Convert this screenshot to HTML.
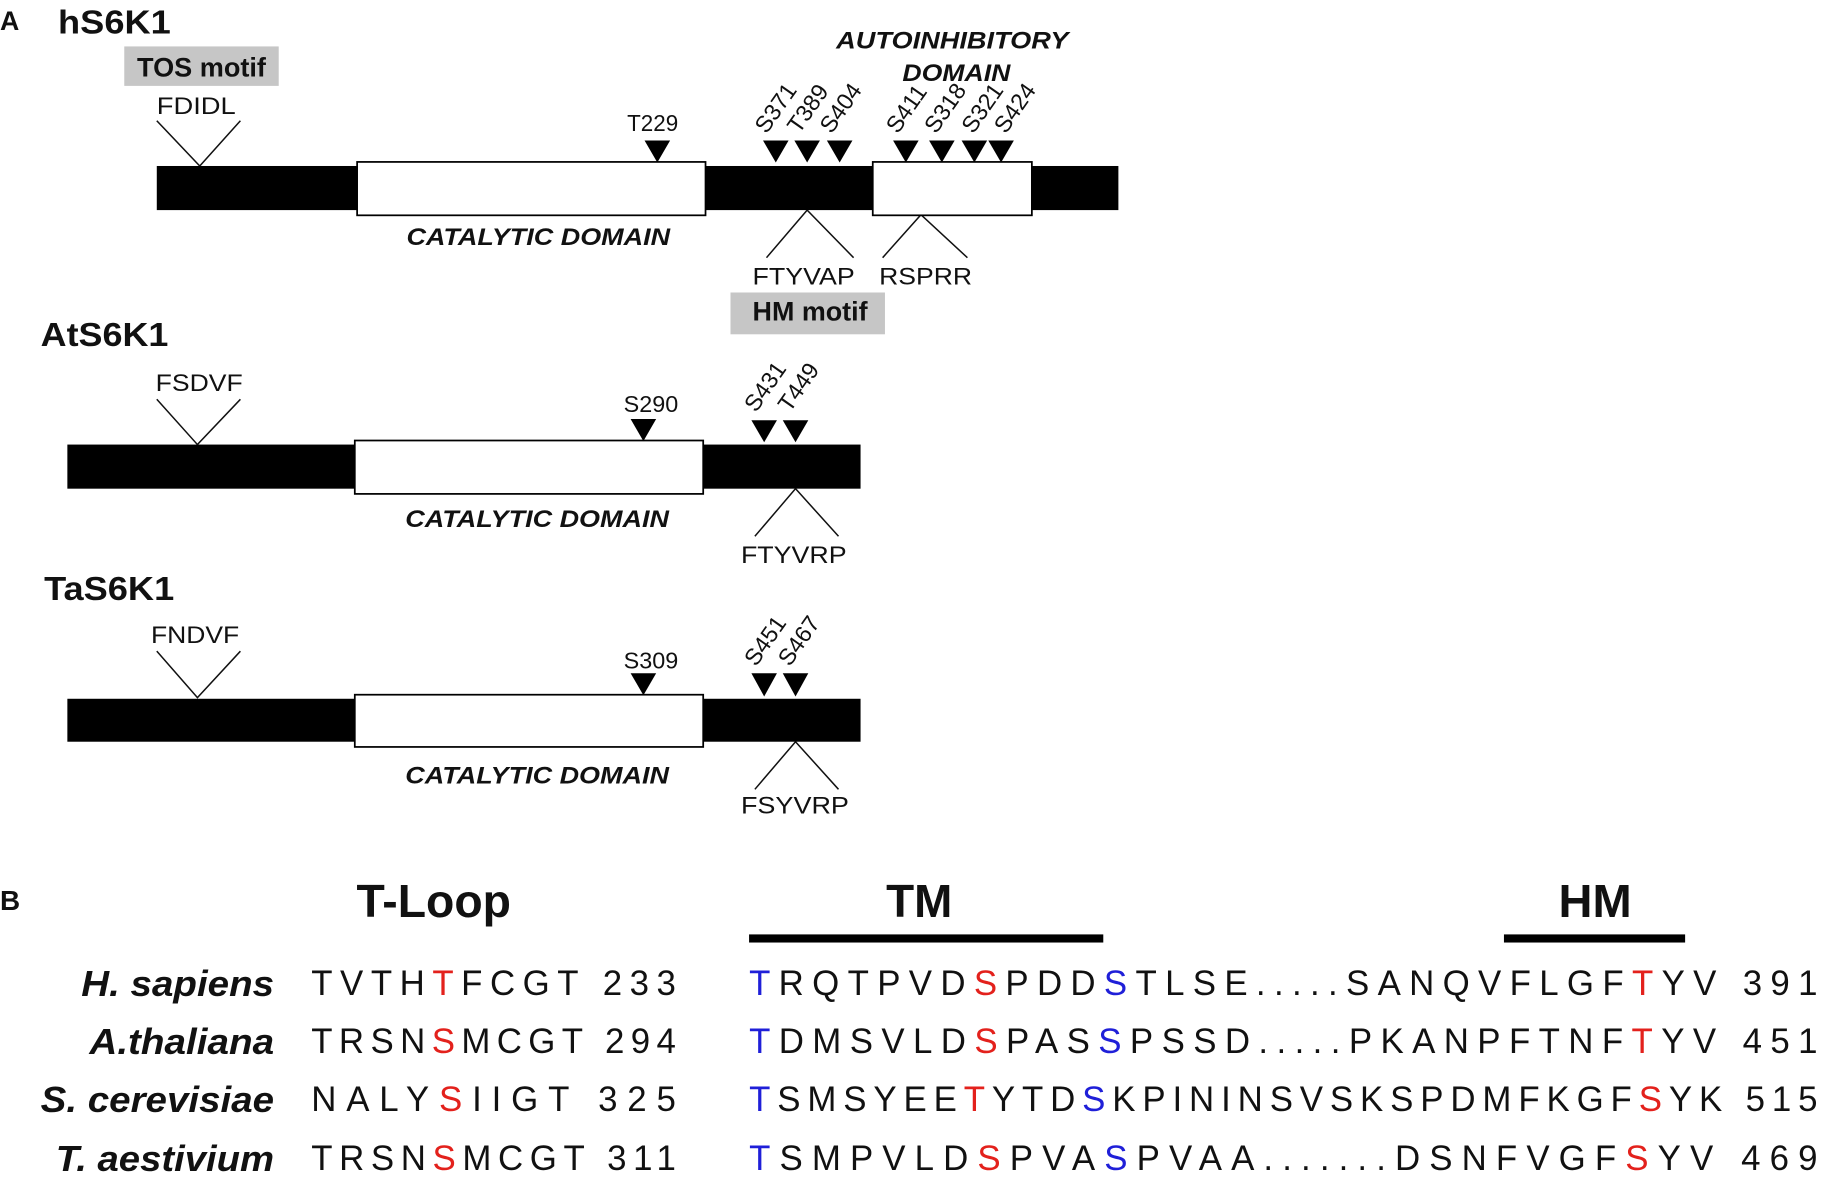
<!DOCTYPE html>
<html><head><meta charset="utf-8"><style>
html,body{margin:0;padding:0;background:#fff;}
svg{display:block;}
text{font-family:"Liberation Sans",Arial,sans-serif;fill:#111;}
.lab{font-size:21px;}
.big{font-weight:bold;}
.dom{font-size:21px;font-weight:bold;font-style:italic;}
.sp{font-size:31px;font-weight:bold;font-style:italic;}
.seq{font-family:"Liberation Mono","DejaVu Sans Mono",monospace;font-size:30px;}
.r{fill:#e3211c;} .b{fill:#1f1fd8;}
</style></head><body>
<svg width="1821" height="1177" viewBox="0 0 1568 1014" preserveAspectRatio="none" xmlns="http://www.w3.org/2000/svg">
<g stroke="#111" stroke-width="1.3" fill="none">
<polyline points="135,104 172,143 207,104"/>
<polyline points="660,222 695,181 735,222"/>
<polyline points="760,222 793,185 833,222"/>
<polyline points="135,344 170,383 207,344"/>
<polyline points="650,462 685,421 722,462"/>
<polyline points="135,561 170,601 207,561"/>
<polyline points="650,680 685,639 722,680"/>
</g>
<!-- Panel A -->
<text x="0" y="26" class="big" style="font-size:23px">A</text>
<text x="50" y="29" class="big" style="font-size:29px" textLength="97" lengthAdjust="spacingAndGlyphs">hS6K1</text>
<rect x="107" y="40" width="133" height="34" fill="#c6c6c6"/>
<text x="118" y="66" class="big" style="font-size:23px" textLength="111" lengthAdjust="spacingAndGlyphs">TOS motif</text>
<text x="135" y="98" class="lab" textLength="68" lengthAdjust="spacingAndGlyphs">FDIDL</text>
<text x="720" y="42" class="dom" textLength="200" lengthAdjust="spacingAndGlyphs">AUTOINHIBITORY</text>
<text x="777" y="70" class="dom" textLength="93" lengthAdjust="spacingAndGlyphs">DOMAIN</text>
<rect x="135" y="143" width="828" height="38" fill="#000"/>
<rect x="307.5" y="139.5" width="300" height="46" fill="#fff" stroke="#000" stroke-width="1.5"/>
<rect x="751.5" y="139.5" width="137" height="46" fill="#fff" stroke="#000" stroke-width="1.5"/>
<text x="350" y="211" class="dom" textLength="227" lengthAdjust="spacingAndGlyphs">CATALYTIC DOMAIN</text>
<text x="540" y="113" class="lab" style="font-size:20px" textLength="44" lengthAdjust="spacingAndGlyphs">T229</text>
<g fill="#000">
<polygon points="555,121 577,121 566,140"/>
<polygon points="657,121 679,121 668,140"/>
<polygon points="684,121 706,121 695,140"/>
<polygon points="712,121 734,121 723,140"/>
<polygon points="769,121 791,121 780,140"/>
<polygon points="800,121 822,121 811,140"/>
<polygon points="828,121 850,121 839,140"/>
<polygon points="851,121 873,121 862,140"/>
</g>
<g class="lab" style="font-size:20px">
<text transform="translate(660,116) rotate(-55)">S371</text>
<text transform="translate(688,116) rotate(-55)">T389</text>
<text transform="translate(716,116) rotate(-55)">S404</text>
<text transform="translate(773,116) rotate(-55)">S411</text>
<text transform="translate(806,116) rotate(-55)">S318</text>
<text transform="translate(838,116) rotate(-55)">S321</text>
<text transform="translate(866,116) rotate(-55)">S424</text>
</g>
<text x="648" y="245" class="lab" textLength="88" lengthAdjust="spacingAndGlyphs">FTYVAP</text>
<text x="757" y="245" class="lab" textLength="80" lengthAdjust="spacingAndGlyphs">RSPRR</text>
<rect x="629" y="252" width="133" height="36" fill="#c6c6c6"/>
<text x="648" y="276" class="big" style="font-size:23px" textLength="99" lengthAdjust="spacingAndGlyphs">HM motif</text>

<!-- AtS6K1 -->
<text x="35" y="298" class="big" style="font-size:29px" textLength="110" lengthAdjust="spacingAndGlyphs">AtS6K1</text>
<text x="134" y="337" class="lab" textLength="75" lengthAdjust="spacingAndGlyphs">FSDVF</text>
<rect x="58" y="383" width="683" height="38" fill="#000"/>
<rect x="305.5" y="379.5" width="300" height="46" fill="#fff" stroke="#000" stroke-width="1.5"/>
<text x="349" y="454" class="dom" textLength="227" lengthAdjust="spacingAndGlyphs">CATALYTIC DOMAIN</text>
<text x="537" y="355" class="lab" style="font-size:20px" textLength="47" lengthAdjust="spacingAndGlyphs">S290</text>
<g fill="#000">
<polygon points="543,361 565,361 554,380"/>
<polygon points="647,362 669,362 658,381"/>
<polygon points="674,362 696,362 685,381"/>
</g>
<g class="lab" style="font-size:20px">
<text transform="translate(651,356) rotate(-55)">S431</text>
<text transform="translate(680,356) rotate(-55)">T449</text>
</g>
<text x="638" y="485" class="lab" textLength="91" lengthAdjust="spacingAndGlyphs">FTYVRP</text>

<!-- TaS6K1 -->
<text x="38" y="517" class="big" style="font-size:29px" textLength="112" lengthAdjust="spacingAndGlyphs">TaS6K1</text>
<text x="130" y="554" class="lab" textLength="76" lengthAdjust="spacingAndGlyphs">FNDVF</text>
<rect x="58" y="602" width="683" height="37" fill="#000"/>
<rect x="305.5" y="598.5" width="300" height="45" fill="#fff" stroke="#000" stroke-width="1.5"/>
<text x="349" y="675" class="dom" textLength="227" lengthAdjust="spacingAndGlyphs">CATALYTIC DOMAIN</text>
<text x="537" y="576" class="lab" style="font-size:20px" textLength="47" lengthAdjust="spacingAndGlyphs">S309</text>
<g fill="#000">
<polygon points="543,580 565,580 554,599"/>
<polygon points="647,580 669,580 658,600"/>
<polygon points="674,580 696,580 685,600"/>
</g>
<g class="lab" style="font-size:20px">
<text transform="translate(651,575) rotate(-55)">S451</text>
<text transform="translate(680,575) rotate(-55)">S467</text>
</g>
<text x="638" y="701" class="lab" textLength="93" lengthAdjust="spacingAndGlyphs">FSYVRP</text>

<!-- Panel B -->
<text x="0" y="784" class="big" style="font-size:24px">B</text>
<text x="307" y="790" class="big" style="font-size:40px" textLength="133" lengthAdjust="spacingAndGlyphs">T-Loop</text>
<text x="763" y="790" class="big" style="font-size:40px" textLength="57" lengthAdjust="spacingAndGlyphs">TM</text>
<text x="1342" y="790" class="big" style="font-size:40px" textLength="63" lengthAdjust="spacingAndGlyphs">HM</text>
<rect x="645" y="805" width="305" height="7" fill="#000"/>
<rect x="1295" y="805" width="156" height="7" fill="#000"/>

<g class="sp">
<text x="70" y="858" textLength="166" lengthAdjust="spacingAndGlyphs">H. sapiens</text>
<text x="77" y="908" textLength="159" lengthAdjust="spacingAndGlyphs">A.thaliana</text>
<text x="35" y="958" textLength="201" lengthAdjust="spacingAndGlyphs">S. cerevisiae</text>
<text x="48" y="1009" textLength="188" lengthAdjust="spacingAndGlyphs">T. aestivium</text>
</g>
<g class="seq">
<text x="268" y="857" textLength="314" lengthAdjust="spacing">TVTH<tspan class="r">T</tspan>FCGT 233</text>
<text x="268" y="907" textLength="314" lengthAdjust="spacing">TRSN<tspan class="r">S</tspan>MCGT 294</text>
<text x="268" y="957" textLength="314" lengthAdjust="spacing">NALY<tspan class="r">S</tspan>IIGT 325</text>
<text x="268" y="1008" textLength="314" lengthAdjust="spacing">TRSN<tspan class="r">S</tspan>MCGT 311</text>
<text x="645" y="857" textLength="920" lengthAdjust="spacing"><tspan class="b">T</tspan>RQTPVD<tspan class="r">S</tspan>PDD<tspan class="b">S</tspan>TLSE.....SANQVFLGF<tspan class="r">T</tspan>YV 391</text>
<text x="645" y="907" textLength="920" lengthAdjust="spacing"><tspan class="b">T</tspan>DMSVLD<tspan class="r">S</tspan>PAS<tspan class="b">S</tspan>PSSD.....PKANPFTNF<tspan class="r">T</tspan>YV 451</text>
<text x="645" y="957" textLength="920" lengthAdjust="spacing"><tspan class="b">T</tspan>SMSYEE<tspan class="r">T</tspan>YTD<tspan class="b">S</tspan>KPININSVSKSPDMFKGF<tspan class="r">S</tspan>YK 515</text>
<text x="645" y="1008" textLength="920" lengthAdjust="spacing"><tspan class="b">T</tspan>SMPVLD<tspan class="r">S</tspan>PVA<tspan class="b">S</tspan>PVAA.......DSNFVGF<tspan class="r">S</tspan>YV 469</text>
</g>
</svg>
</body></html>
